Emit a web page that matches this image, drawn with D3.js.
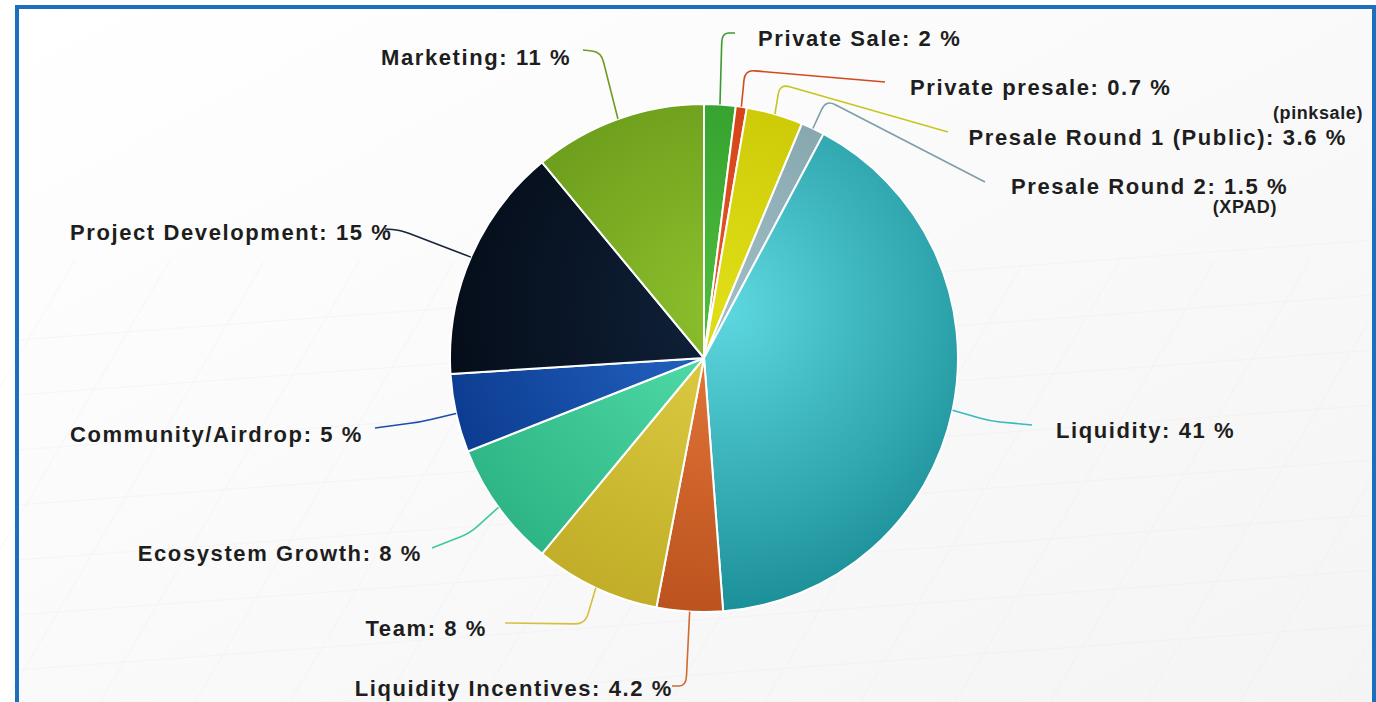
<!DOCTYPE html>
<html>
<head>
<meta charset="utf-8">
<script src="https://cdn.jsdelivr.net/npm/d3@7"></script>
<style>
html,body{margin:0;padding:0;background:#ffffff;}
svg{display:block;}
</style>
</head>
<body>
<svg id="chart" width="1376" height="702"></svg>
<script>
// ---- data ----
const categories = ["Private Sale","Private presale","Presale Round 1 (Public)","Presale Round 2","Liquidity","Liquidity Incentives","Team","Ecosystem Growth","Community/Airdrop","Project Development","Marketing"];
const values = [2, 0.7, 3.6, 1.5, 41, 4.2, 8, 8, 5, 15, 11];
const valueLabels = ["2","0.7","3.6","1.5","41","4.2","8","8","5","15","11"];
const subLabels = ["", "", "(pinksale)", "(XPAD)", "", "", "", "", "", "", ""];

// ---- styles ----
const darkColors  = ["#2c962a","#cc3a10","#c4c000","#7b9ea6","#1b8f97","#bc521e","#c2ae28","#2eb585","#0b3a8e","#040b16","#649418"];
const lightColors = ["#4cbc3c","#e4582a","#e0de18","#a0bcc4","#5ed8e0","#e67c3c","#e0d046","#54e0ac","#2668c8","#10223a","#8cc02c"];
const lineColors  = ["#3a9a30","#d24a20","#c8c420","#7e9ea6","#3ab8c0","#d06a30","#d4c040","#40c898","#1a4ea8","#16243a","#6e9c1e"];

// ---- layout (label positions) ----
const labelPos = [
  {x:758,  y:38,  anchor:"start", knee:[722,33],  end:[735,33]},
  {x:910,  y:87,  anchor:"start", knee:[745,70],  end:[885,82]},
  {x:1347, y:137, anchor:"end",   knee:[780,84],  end:[948,132]},
  {x:1011, y:186, anchor:"start", knee:[826,100], end:[985,182]},
  {x:1056, y:430, anchor:"start", knee:[990,421], end:[1032,425]},
  {x:673,  y:688, anchor:"end",   knee:[686,686], end:[672,686]},
  {x:487,  y:628, anchor:"end",   knee:[585,624], end:[505,623]},
  {x:422,  y:553, anchor:"end",   knee:[470,533], end:[432,548]},
  {x:363,  y:434, anchor:"end",   knee:[420,422], end:[375,428]},
  {x:70,   y:232, anchor:"start", knee:[400,230], end:[385,229]},
  {x:381,  y:57,  anchor:"start", knee:[601,52],  end:[583,50]}
];
const subPos = [null, null, {x:1363, y:113}, {x:1277, y:207}, null, null, null, null, null, null, null];

const W = 1376, H = 702;
const cx = 704, cy = 358, R = 254;

const svg = d3.select("#chart");
const defs = svg.append("defs");

// background
const bgGrad = defs.append("linearGradient").attr("id","bg").attr("x1","0").attr("y1","0").attr("x2","1").attr("y2","1");
bgGrad.append("stop").attr("offset","0").attr("stop-color","#ffffff");
bgGrad.append("stop").attr("offset","1").attr("stop-color","#f4f4f4");
svg.append("rect").attr("x",0).attr("y",0).attr("width",W).attr("height",H).attr("fill","#ffffff");
svg.append("rect").attr("x",17).attr("y",7).attr("width",1357).attr("height",H+20).attr("fill","url(#bg)");

// faint perspective grid
const grid = svg.append("g").attr("stroke","#ebebeb").attr("stroke-width",1).attr("opacity",0.35).attr("fill","none");
const gx = d3.range(-400, 1900, 95);
gx.forEach(x => grid.append("line").attr("x1", x).attr("y1", 260).attr("x2", x - 260).attr("y2", H));
const gy = d3.range(280, H, 55);
gy.forEach(y => grid.append("line").attr("x1", 17).attr("y1", y + 60).attr("x2", 1374).attr("y2", y - 40));

// frame
svg.append("rect").attr("x",17).attr("y",7).attr("width",1357).attr("height",H+20)
  .attr("fill","none").attr("stroke","#1c6fbf").attr("stroke-width",4);

// gradients per slice (in pie-group coordinates)
categories.forEach((c,i) => {
  const g = defs.append("radialGradient").attr("id","g"+i)
    .attr("gradientUnits","userSpaceOnUse").attr("cx",20).attr("cy",-50).attr("r",R*1.2);
  g.append("stop").attr("offset","0").attr("stop-color",lightColors[i]);
  g.append("stop").attr("offset","1").attr("stop-color",darkColors[i]);
});

const pie = d3.pie().sort(null).value(d => d.v);
const data = categories.map((c,i) => ({name:c, v:values[i], i:i}));
const arcs = pie(data);
const arc = d3.arc().innerRadius(0).outerRadius(R);
const edge = d3.arc().innerRadius(R).outerRadius(R);

const gPie = svg.append("g").attr("transform",`translate(${cx},${cy})`);
gPie.selectAll("path.slice").data(arcs).enter().append("path")
  .attr("class","slice")
  .attr("d",arc)
  .attr("fill",d => `url(#g${d.data.i})`)
  .attr("stroke","#ffffff").attr("stroke-width",2).attr("stroke-linejoin","round");

// connectors
function connector(d) {
  const c = edge.centroid(d);
  const s = [c[0] + cx, c[1] + cy];
  const lp = labelPos[d.data.i];
  const k = lp.knee, e = lp.end;
  const r = 10;
  const d1 = Math.hypot(k[0]-s[0], k[1]-s[1]);
  const d2 = Math.hypot(e[0]-k[0], e[1]-k[1]);
  const r1 = Math.min(r, d1/2), r2 = Math.min(r, d2/2);
  const a = [k[0] - (k[0]-s[0])*r1/d1, k[1] - (k[1]-s[1])*r1/d1];
  const b = [k[0] + (e[0]-k[0])*r2/d2, k[1] + (e[1]-k[1])*r2/d2];
  const p = d3.path();
  p.moveTo(s[0], s[1]);
  p.lineTo(a[0], a[1]);
  p.quadraticCurveTo(k[0], k[1], b[0], b[1]);
  p.lineTo(e[0], e[1]);
  return p.toString();
}
svg.append("g").selectAll("path").data(arcs).enter().append("path")
  .attr("d", connector)
  .attr("fill","none")
  .attr("stroke", d => lineColors[d.data.i])
  .attr("stroke-width",1.6);

// labels
const gl = svg.append("g")
  .attr("font-family","'Liberation Sans', Arial, sans-serif")
  .attr("font-weight","bold")
  .attr("fill","#1e1e1e");
gl.selectAll("text.lbl").data(arcs).enter().append("text")
  .attr("class","lbl")
  .attr("x", d => labelPos[d.data.i].x)
  .attr("y", d => labelPos[d.data.i].y)
  .attr("dy","0.35em")
  .attr("text-anchor", d => labelPos[d.data.i].anchor)
  .attr("font-size", 22)
  .attr("letter-spacing", 1.6)
  .text(d => `${d.data.name}: ${valueLabels[d.data.i]} %`);

gl.selectAll("text.sub").data(arcs.filter(d => subLabels[d.data.i])).enter().append("text")
  .attr("class","sub")
  .attr("x", d => subPos[d.data.i].x)
  .attr("y", d => subPos[d.data.i].y)
  .attr("dy","0.35em")
  .attr("text-anchor","end")
  .attr("font-size", 18)
  .attr("letter-spacing", 0.6)
  .text(d => subLabels[d.data.i]);
</script>
</body>
</html>
